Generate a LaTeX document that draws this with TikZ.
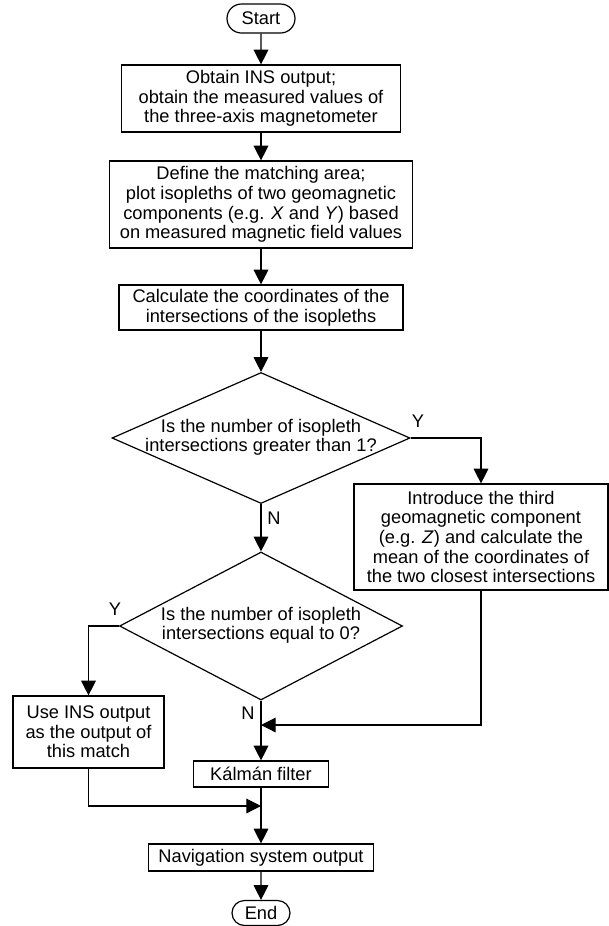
\documentclass[tikz,border=0pt]{standalone}
\usepackage{fontspec}
\setmainfont{Liberation Sans}
\usetikzlibrary{shapes.geometric,shapes.misc,arrows.meta,calc}
\begin{document}
\begin{tikzpicture}[x=0.75pt,y=-0.75pt,
  font=\fontsize{13.7pt}{14.7pt}\selectfont,
  box/.style={draw, rectangle, align=center, inner sep=0pt, line width=0.9pt},
  term/.style={draw, rounded rectangle, inner sep=0pt, line width=0.9pt},
  dia/.style={draw, diamond, inner sep=0pt, line width=0.9pt},
  arr/.style={-{Triangle[length=11pt,width=11pt]}, line width=0.9pt},
  lab/.style={inner sep=0pt}]
\useasboundingbox (0,0) rectangle (609,926);
\node[term, minimum width=51pt, minimum height=21.75pt] (start) at (261,18.5) {Start};
\node[box, minimum width=209.25pt, minimum height=50.25pt] (b1) at (261,98.5)
  {Obtain INS output;\\obtain the measured values of\\the three-axis magnetometer};
\node[box, minimum width=227.25pt, minimum height=65.25pt] (b2) at (261,204.5)
  {Define the matching area;\\plot isopleths of two geomagnetic\\components (e.g. \textit{X} and \textit{Y}) based\\on measured magnetic field values};
\node[box, minimum width=213pt, minimum height=33.75pt] (b3) at (261,307.5)
  {Calculate the coordinates of the\\intersections of the isopleths};
\node[dia, minimum width=223.5pt, minimum height=98.25pt] (d1) at (261,438)
  {\makebox[0pt]{\begin{tabular}{@{}c@{}}Is the number of isopleth\\intersections greater than 1?\end{tabular}}};
\node[box, minimum width=190.5pt, minimum height=79.5pt] (b4) at (481,537)
  {Introduce the third\\geomagnetic component\\(e.g. \textit{Z}) and calculate the\\mean of the coordinates of\\the two closest intersections};
\node[dia, minimum width=212.25pt, minimum height=111pt] (d2) at (261,626)
  {\makebox[0pt]{\begin{tabular}{@{}c@{}}Is the number of isopleth\\intersections equal to 0?\end{tabular}}};
\node[box, minimum width=113.25pt, minimum height=54pt] (b5) at (88.5,732)
  {Use INS output\\as the output of\\this match};
\node[box, minimum width=101.25pt, minimum height=19.5pt] (kal) at (261,774) {Kálmán filter};
\node[box, minimum width=168.75pt, minimum height=20.25pt] (nav) at (261,857.5) {Navigation system output};
\node[term, minimum width=43.5pt, minimum height=18.75pt] (end) at (261,913) {End};

\coordinate (j1) at (261,725);
\coordinate (j2) at (261,806);

\draw[arr] (start) -- (b1);
\draw[arr] (b1) -- (b2);
\draw[arr] (b2) -- (b3);
\draw[arr] (b3) -- (d1);
\draw[arr] (d1.east) -| (b4.north);
\draw[arr] (d1.south) -- (d2.north);
\draw[arr] (d2.west) -| (b5.north);
\draw[arr] (d2.south) -- (kal.north);
\draw[arr] (b4.south) |- (j1);
\draw[arr] (b5.south) |- (j2);
\draw[arr] (kal.south) -- (nav.north);
\draw[arr] (nav) -- (end);

\node[lab] (ly1) at (418,421) {Y};
\node[lab] (ln1) at (274,518) {N};
\node[lab] (ly2) at (115,609) {Y};
\node[lab] (ln2) at (248,713) {N};
\end{tikzpicture}
\end{document}
